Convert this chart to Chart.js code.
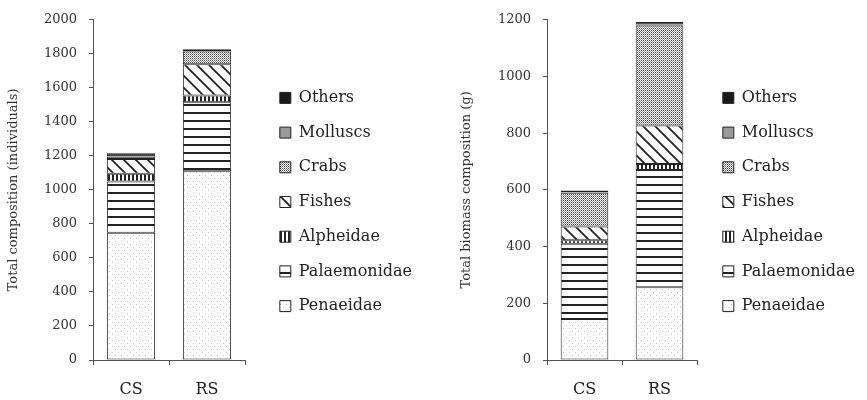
<!DOCTYPE html>
<html>
<head>
<meta charset="utf-8">
<title>Composition by site</title>
<script src="https://cdn.jsdelivr.net/npm/chart.js@4/dist/chart.umd.min.js"></script>
<style>
  html, body { margin: 0; padding: 0; background: #fff; }
  #wrap { position: relative; width: 867px; height: 400px; }
  .panel { position: absolute; top: 0; height: 400px; }
  #left  { left: 0;     width: 433px; }
  #right { left: 433px; width: 434px; }
</style>
</head>
<body>
<div id="wrap">
  <div class="panel" id="left"><canvas id="countChart"></canvas></div>
  <div class="panel" id="right"><canvas id="massChart"></canvas></div>
</div>
<script>
// ---- data ----
const sites  = ['CS', 'RS'];
const groups = ['Penaeidae', 'Palaemonidae', 'Alpheidae', 'Fishes', 'Crabs', 'Molluscs', 'Others'];

// individuals per group (same order as groups)
const countCS = [748, 302, 45, 87, 13, 3, 17];
const countRS = [1110, 406, 39, 184, 74, 4, 10];

// biomass in grams per group
const massCS = [145, 265, 12, 49, 119, 2, 6];
const massRS = [257, 413, 21, 136, 353, 3, 9];

const countMax = 2000;
const massMax  = 1200;
const tickStep = 200;

// ---- fills ----
function tile(w, h, paint) {
  const c = document.createElement('canvas');
  c.width = w; c.height = h;
  const g = c.getContext('2d');
  g.fillStyle = '#fff';
  g.fillRect(0, 0, w, h);
  paint(g);
  return g.createPattern(c, 'repeat');
}

const fills = [
  // Penaeidae: faint dots
  tile(6, 6, g => { g.fillStyle = '#c4c4c4'; g.fillRect(1, 1, 1, 1); g.fillRect(4, 4, 1, 1); }),
  // Palaemonidae: horizontal rules
  tile(8, 8, g => { g.fillStyle = '#222'; g.fillRect(0, 0, 8, 2); }),
  // Alpheidae: tight vertical rules
  tile(4, 4, g => { g.fillStyle = '#222'; g.fillRect(0, 0, 2, 4); }),
  // Fishes: diagonal hatch
  tile(12, 12, g => {
    g.strokeStyle = '#222'; g.lineWidth = 1.8;
    g.beginPath();
    g.moveTo(-2, -2); g.lineTo(14, 14);
    g.moveTo(-14, -2); g.lineTo(2, 14);
    g.moveTo(10, -2); g.lineTo(26, 14);
    g.stroke();
  }),
  // Crabs: fine checker
  tile(2, 2, g => {
    g.fillStyle = '#444'; g.fillRect(0, 0, 1, 1);
    g.fillStyle = '#999'; g.fillRect(1, 1, 1, 1);
  }),
  // Molluscs
  '#9a9a9a',
  // Others
  '#1a1a1a'
];

const serif = '"DejaVu Serif", "Liberation Serif", serif';

function buildDatasets(cs, rs) {
  return groups.map((g, i) => ({
    label: g,
    data: [cs[i], rs[i]],
    backgroundColor: fills[i],
    borderColor: '#222',
    borderWidth: 1,
    borderSkipped: false,
    barPercentage: 1,
    categoryPercentage: 0.635
  }));
}

// blank axis used only to reserve room on one side of the plot
function spacer(position, size) {
  return {
    position,
    display: true,
    ticks: { display: false },
    grid: { display: false },
    border: { display: false },
    afterFit(s) {
      if (position === 'top') s.height = size(s);
      else s.width = size(s);
    }
  };
}

// cfg: y max, axis title, padding, where the plot area should sit
function makeChart(id, cs, rs, cfg) {
  const pad = cfg.pad;
  return new Chart(document.getElementById(id), {
    type: 'bar',
    data: { labels: sites, datasets: buildDatasets(cs, rs) },
    options: {
      responsive: true,
      maintainAspectRatio: false,
      animation: false,
      layout: { padding: pad },
      plugins: {
        tooltip: { enabled: false },
        legend: {
          position: 'right',
          reverse: true,
          maxWidth: 300,
          labels: {
            boxWidth: 11,
            boxHeight: 11,
            padding: 18.7,
            color: '#222',
            font: { family: serif, size: 16 }
          }
        }
      },
      scales: {
        x: {
          stacked: true,
          grid: { display: true, drawOnChartArea: false, tickLength: 5, color: '#555' },
          border: { display: true, color: '#555', width: 1 },
          ticks: { color: '#222', padding: 15, font: { family: serif, size: 16 } },
          afterFit(s) { s.height = 400 - pad.bottom - cfg.areaBottom; }
        },
        y: {
          stacked: true,
          min: 0,
          max: cfg.max,
          ticks: {
            stepSize: tickStep,
            color: '#333',
            padding: 12,
            font: { family: serif, size: 13 },
            callback: v => String(v)
          },
          grid: { display: true, drawOnChartArea: false, tickLength: 4, color: '#555' },
          border: { display: true, color: '#555', width: 1 },
          title: {
            display: true,
            text: cfg.title,
            color: '#333',
            padding: { top: 2, bottom: 0 },
            font: { family: serif, size: 13 }
          },
          afterFit(s) { s.width = cfg.yWidth; }
        },
        lead: spacer('top', () => cfg.areaTop - pad.top),
        gap: spacer('right', s => {
          const lg = s.chart.legend;
          return Math.max(0, s.chart.width - pad.right - (lg ? lg.width : 0) - cfg.areaRight);
        })
      }
    }
  });
}

makeChart('countChart', countCS, countRS, {
  max: countMax,
  title: 'Total composition (individuals)',
  pad: { left: 4, right: 11, top: 4, bottom: 0 },
  yWidth: 89,
  areaTop: 17,
  areaRight: 245,
  areaBottom: 360
});

makeChart('massChart', massCS, massRS, {
  max: massMax,
  title: 'Total biomass composition (g)',
  pad: { left: 24, right: 2, top: 4, bottom: 0 },
  yWidth: 90,
  areaTop: 14,
  areaRight: 264,
  areaBottom: 360
});
</script>
</body>
</html>
